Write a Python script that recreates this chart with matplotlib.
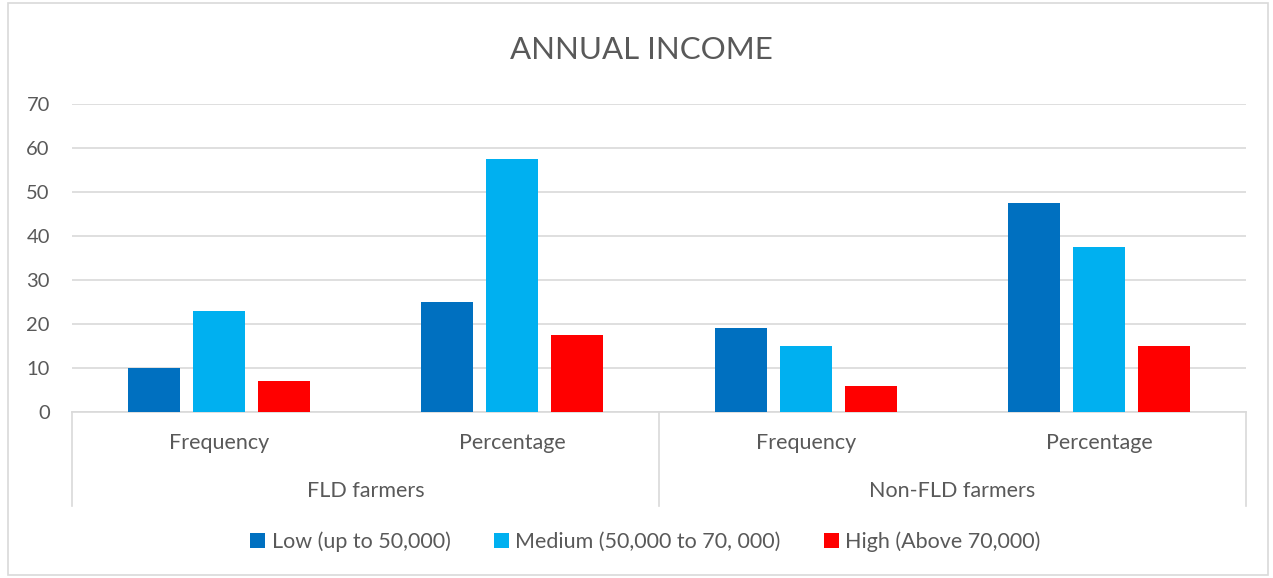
import matplotlib.pyplot as plt
import matplotlib.patches as mpatches
import matplotlib.transforms as mtransforms
import numpy as np

plt.rcParams["font.family"] = ["Lato", "DejaVu Sans"]

TEXT = "#595959"
GRID = "#d9d9d9"

categories = ["Frequency", "Percentage", "Frequency", "Percentage"]
groups = ["FLD farmers", "Non-FLD farmers"]
series = [
    "Low (up to 50,000)",
    "Medium (50,000 to 70, 000)",
    "High (Above 70,000)",
]
low = [10, 25, 19, 47.5]
medium = [23, 57.5, 15, 37.5]
high = [7, 17.5, 6, 15]
colors = ["#0070c0", "#00b0f0", "#ff0000"]

fig = plt.figure(figsize=(12.73, 5.78), dpi=100)
ax = fig.add_axes([72 / 1273, 1 - 412 / 578, (1246 - 72) / 1273, 308 / 578])

x = np.arange(len(categories))
width = 0.177
step = 0.2215
for i, (vals, name) in enumerate(zip([low, medium, high], series)):
    ax.bar(x + (i - 1) * step, vals, width, color=colors[i], label=name, zorder=3)

ax.set_xlim(-0.5, len(categories) - 0.5)
ax.set_ylim(0, 70)
ax.set_yticks(range(0, 71, 10))
ax.set_xticks([])
ax.grid(axis="y", color=GRID, linewidth=1.2, zorder=0)
for s in ["top", "right", "left"]:
    ax.spines[s].set_visible(False)
ax.spines["bottom"].set_color(GRID)
ax.spines["bottom"].set_linewidth(1.2)
ax.tick_params(axis="y", length=0, pad=16, labelsize=14.5, labelcolor=TEXT)

# Two-level category axis
trans = mtransforms.blended_transform_factory(ax.transData, ax.transAxes)
for sep in [-0.5, 1.5, 3.5]:
    ax.plot([sep, sep], [0, -0.305], transform=trans, color=GRID,
            linewidth=1.2, clip_on=False)
for xi, cat in zip(x, categories):
    ax.text(xi, -0.10, cat, transform=trans, ha="center", va="center",
            fontsize=15.5, color=TEXT)
for gi, grp in enumerate(groups):
    ax.text(gi * 2 + 0.5, -0.256, grp, transform=trans, ha="center",
            va="center", fontsize=15.5, color=TEXT)

fig.text(0.504, 1 - 50 / 578, "ANNUAL INCOME", ha="center", va="center",
         fontsize=22.5, color=TEXT)

fig.legend(loc="center", bbox_to_anchor=(0.507, 1 - 542 / 578), ncol=3,
           frameon=False, fontsize=15.5, labelcolor=TEXT, handlelength=0.7,
           handleheight=0.7, handletextpad=0.3, columnspacing=2.0)

fig.patches.append(mpatches.Rectangle(
    (8 / 1273, 3 / 578), 1260 / 1273, 572 / 578, transform=fig.transFigure,
    fill=False, edgecolor=GRID, linewidth=1.2))

fig.savefig("out.png", dpi=100)
